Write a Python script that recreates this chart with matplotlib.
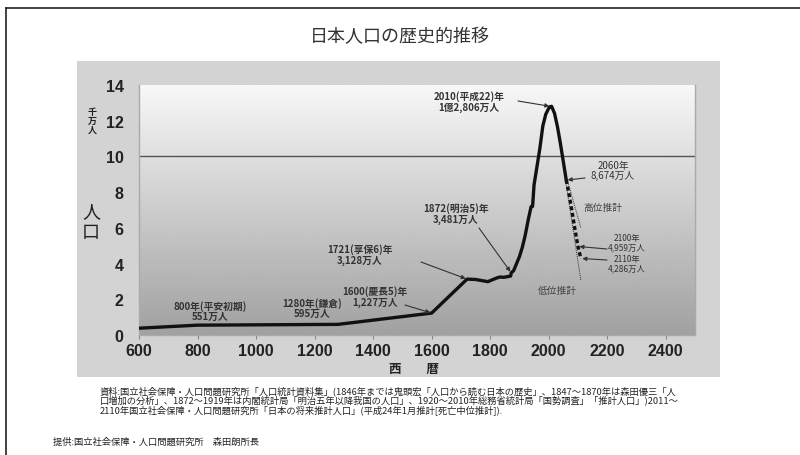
import numpy as np
import matplotlib
matplotlib.use('Agg')
import matplotlib.pyplot as plt
from matplotlib.patches import Rectangle
from matplotlib.lines import Line2D

plt.rcParams['font.family'] = ['Noto Sans CJK JP', 'DejaVu Sans']

W, H = 800, 456

# population in units of 10 million (千万人)
years_hist = [600, 800, 1280, 1600, 1721, 1750, 1792, 1804, 1822, 1834, 1846, 1870, 1872,
              1880, 1890, 1900, 1910, 1920, 1930, 1940, 1945, 1950, 1960, 1970, 1980,
              1990, 2000, 2004, 2010, 2020, 2030, 2040, 2050, 2060]
pop_hist = [0.38, 0.551, 0.595, 1.227, 3.128, 3.11, 2.987, 3.069, 3.191, 3.248, 3.23, 3.30, 3.481,
            3.60, 3.99, 4.385, 4.918, 5.596, 6.445, 7.193, 7.20, 8.411, 9.430, 10.467, 11.706,
            12.361, 12.693, 12.784, 12.806, 12.41, 11.662, 10.728, 9.708, 8.674]

years_mid = [2060, 2070, 2080, 2090, 2100, 2110]
pop_mid = [8.674, 7.85, 6.90, 5.90, 4.959, 4.286]

years_high = [2050, 2060, 2110]
pop_high = [9.708, 8.9, 6.0]
years_low = [2050, 2060, 2110]
pop_low = [9.708, 8.4, 3.05]

x_ticks = [600, 800, 1000, 1200, 1400, 1600, 1800, 2000, 2200, 2400]
y_ticks = [0, 2, 4, 6, 8, 10, 12, 14]

title = '日本人口の歴史的推移'
source_lines = [
    '資料:国立社会保障・人口問題研究所「人口統計資料集」(1846年までは鬼頭宏「人口から読む日本の歴史」、1847～1870年は森田優三「人',
    '口増加の分析」、1872～1919年は内閣統計局「明治五年以降我国の人口」、1920～2010年総務省統計局「国勢調査」「推計人口」)2011～',
    '2110年国立社会保障・人口問題研究所「日本の将来推計人口」(平成24年1月推計[死亡中位推計]).',
]
credit = '提供:国立社会保障・人口問題研究所　森田朗所長'


def fx(px):
    return px / W


def fy(py):
    return 1 - py / H


fig = plt.figure(figsize=(W / 100, H / 100), dpi=100)
fig.patch.set_facecolor('white')

# outer frame
fig.add_artist(Line2D([fx(6), 1.0], [fy(9), fy(9)], color='#222222', lw=1.2))
fig.add_artist(Line2D([fx(6), fx(6)], [fy(9), 0.0], color='#222222', lw=1.2))

# grey panel behind the chart
fig.add_artist(Rectangle((fx(77), fy(378)), fx(720) - fx(77), fy(62) - fy(378),
                         facecolor='#d3d3d3', edgecolor='none', zorder=0))

fig.text(fx(400), fy(37), title, ha='center', va='center', fontsize=13, color='#333333')

ax = fig.add_axes([fx(139), fy(336), fx(695) - fx(139), fy(86) - fy(336)])
ax.set_xlim(600, 2500)
ax.set_ylim(0, 14)

grad = np.linspace(0.63, 0.97, 256).reshape(-1, 1)
ax.imshow(grad, extent=[600, 2500, 0, 14], origin='lower', aspect='auto',
          cmap='gray', vmin=0, vmax=1, zorder=0)
ax.axhline(10, color='#555555', lw=1.0, zorder=1)

ax.plot(years_hist, pop_hist, color='#111111', lw=2.4, solid_joinstyle='round', zorder=4)
ax.plot(years_mid, pop_mid, color='#111111', lw=2.4, ls=(0, (1.2, 0.8)), zorder=4)
ax.plot(years_high, pop_high, color='#333333', lw=0.7, ls=(0, (1, 1)), zorder=3)
ax.plot(years_low, pop_low, color='#333333', lw=0.7, ls=(0, (1, 1)), zorder=3)

ax.set_xticks(x_ticks)
ax.set_yticks(y_ticks)
ax.set_xticklabels([str(t) for t in x_ticks], fontsize=11.5, fontweight='bold',
                   family=['Liberation Sans', 'DejaVu Sans'], color='#222222')
ax.set_yticklabels([str(t) for t in y_ticks], fontsize=11.5, fontweight='bold',
                   family=['Liberation Sans', 'DejaVu Sans'], color='#222222')
ax.tick_params(axis='x', length=3, width=0.8, color='#888888', pad=3)
ax.tick_params(axis='y', length=0, pad=11)
for side in ['left', 'bottom', 'right']:
    ax.spines[side].set_color('#aaaaaa')
    ax.spines[side].set_linewidth(1.0)
ax.spines['top'].set_visible(False)

# axis captions
for i, ch in enumerate('千万人'):
    fig.text(fx(92), fy(112 + i * 9), ch, ha='center', va='center', fontsize=6.5,
             fontweight='bold', color='#222222')
fig.text(fx(91), fy(212), '人', ha='center', va='center', fontsize=13, color='#222222')
fig.text(fx(91), fy(233), '口', ha='center', va='center', fontsize=13, color='#222222')
fig.text(fx(414), fy(370), '西　　暦', ha='center', va='center', fontsize=9,
         fontweight='bold', color='#222222')

# labels with arrows: (text, text centre px, arrow start px, data point, bold, size)
notes = [
    ('2010(平成22)年\n1億2,806万人', (469, 102), (518, 102), (2007, 12.8), True, 7),
    ('1872(明治5)年\n3,481万人', (456, 214), (479, 229), (1872, 3.481), True, 7),
    ('1721(享保6)年\n3,128万人', (360, 255), (421, 263), (1721, 3.128), True, 7),
    ('1600(慶長5)年\n1,227万人', (375, 297), (405, 306), (1600, 1.227), True, 7),
    ('2060年\n8,674万人', (613, 171), (585, 179), (2060, 8.674), False, 7),
    ('2100年\n4,959万人', (627, 243), (607, 250), (2100, 4.959), False, 6),
    ('2110年\n4,286万人', (627, 264), (607, 261), (2110, 4.286), False, 6),
]
for text, (tx, ty), (ax0, ay0), xy, bold, size in notes:
    fig.text(fx(tx), fy(ty), text, ha='center', va='center', fontsize=size,
             fontweight='bold' if bold else 'normal', color='#333333', linespacing=1.05)
    ax.annotate('', xy=xy, xytext=(fx(ax0), fy(ay0)), textcoords='figure fraction',
                arrowprops=dict(arrowstyle='-|>', color='#333333', lw=0.8,
                                mutation_scale=6, shrinkA=0, shrinkB=1), zorder=5)

plain_notes = [
    ('800年(平安初期)\n551万人', (210, 312)),
    ('1280年(鎌倉)\n595万人', (312, 309)),
]
for text, (tx, ty) in plain_notes:
    fig.text(fx(tx), fy(ty), text, ha='center', va='center', fontsize=7,
             fontweight='bold', color='#333333', linespacing=1.0)

fig.text(fx(603), fy(208), '高位推計', ha='center', va='center', fontsize=7, color='#444444')
fig.text(fx(557), fy(291), '低位推計', ha='center', va='center', fontsize=7, color='#444444')

# source notes
for i, line in enumerate(source_lines):
    fig.text(fx(100), fy(391 + i * 9.5), line, ha='left', va='center', fontsize=6.7,
             color='#222222')
fig.text(fx(53), fy(442), credit, ha='left', va='center', fontsize=6.7, color='#222222')

fig.savefig('out.png', dpi=100)
